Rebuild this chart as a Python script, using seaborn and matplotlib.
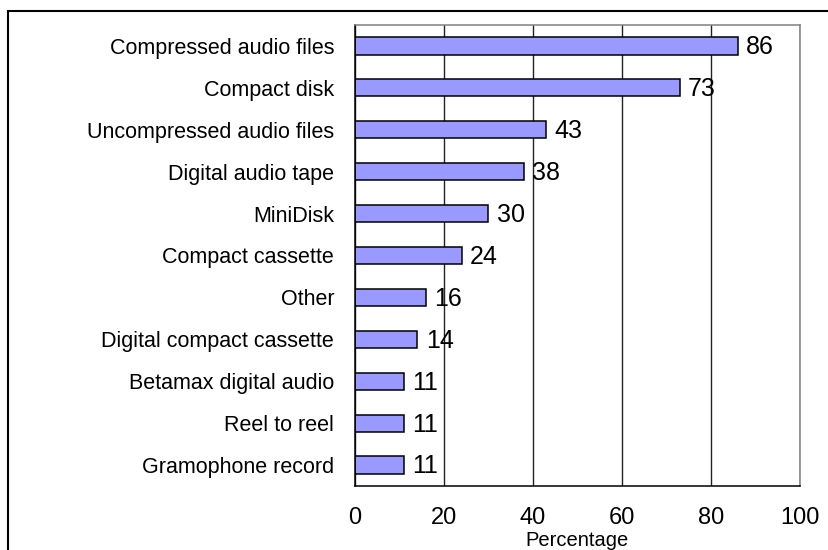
import matplotlib
matplotlib.use("Agg")
import matplotlib.pyplot as plt
import seaborn as sns
import pandas as pd
from matplotlib.patches import Rectangle

categories = [
    "Compressed audio files",
    "Compact disk",
    "Uncompressed audio files",
    "Digital audio tape",
    "MiniDisk",
    "Compact cassette",
    "Other",
    "Digital compact cassette",
    "Betamax digital audio",
    "Reel to reel",
    "Gramophone record",
]
percentages = [86, 73, 43, 38, 30, 24, 16, 14, 11, 11, 11]
x_ticks = [0, 20, 40, 60, 80, 100]

df = pd.DataFrame({"format": categories, "pct": percentages})

sns.set_style("white")
plt.rcParams["font.family"] = ["Liberation Sans", "DejaVu Sans"]
plt.rcParams["text.color"] = "black"
plt.rcParams["xtick.color"] = "black"
plt.rcParams["ytick.color"] = "black"
plt.rcParams["axes.labelcolor"] = "black"

fig = plt.figure(figsize=(8.29, 5.5), dpi=100)
ax = fig.add_axes([355 / 829, 64 / 550, 445 / 829, 461 / 550])

sns.barplot(data=df, x="pct", y="format", orient="h", color="#9999FF",
            saturation=1, width=0.41, edgecolor="black", linewidth=1.1, ax=ax)

ax.set_xlim(0, 100)
ax.set_ylim(len(categories) - 0.5, -0.5)
ax.set_xticks(x_ticks)
ax.set_xticklabels([str(t) for t in x_ticks], fontsize=17)
ax.tick_params(axis="x", direction="out", length=5, width=1, color="black", pad=10)

# category ticks sit between the bars
ax.set_yticks(range(len(categories)))
ax.set_yticklabels(categories, fontsize=15.5)
ax.set_yticks([i - 0.5 for i in range(len(categories) + 1)], minor=True)
ax.tick_params(axis="y", which="major", length=0, pad=15)
ax.tick_params(axis="y", which="minor", direction="out", length=6, width=1, color="black")

ax.xaxis.grid(True, color="#222222", linewidth=1)
ax.yaxis.grid(False)
ax.set_axisbelow(True)

ax.set_xlabel("Percentage", fontsize=14.5)
ax.xaxis.label.set_va("baseline")
ax.xaxis.set_label_coords(0.5, -60 / 461)
ax.set_ylabel("")

for side in ["left", "bottom"]:
    ax.spines[side].set_color("black")
    ax.spines[side].set_linewidth(1.1)
for side in ["top", "right"]:
    ax.spines[side].set_color("#808080")
    ax.spines[side].set_linewidth(1.1)

for i, v in enumerate(percentages):
    ax.annotate(str(v), (v, i), xytext=(6, -1), textcoords="offset points",
                va="center", ha="left", fontsize=18)

# outer frame around the chart, running off the right and bottom edges
fig.patches.append(Rectangle((8 / 829, -0.1), 1.2, 1 - 11 / 550 + 0.1,
                             transform=fig.transFigure, fill=False,
                             edgecolor="black", linewidth=1.5))

fig.savefig("out.png", dpi=100)
